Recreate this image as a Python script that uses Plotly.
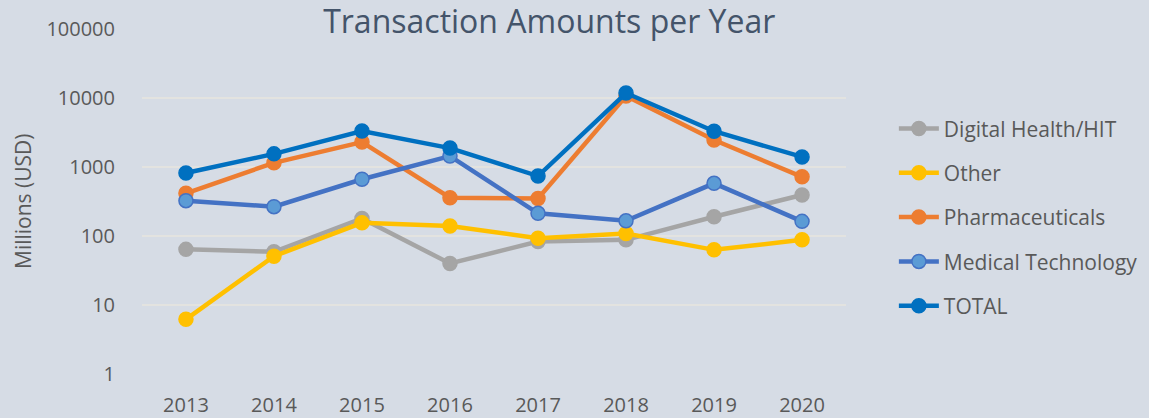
import plotly.graph_objects as go

years = ["2013", "2014", "2015", "2016", "2017", "2018", "2019", "2020"]
digital_health = [64, 59, 180, 40, 83, 88, 190, 393]
other = [6.2, 51, 155, 140, 93, 109, 63, 88]
pharmaceuticals = [416, 1150, 2300, 359, 350, 10700, 2460, 720]
medical_technology = [325, 266, 665, 1440, 213, 166, 580, 163]
total = [819, 1550, 3330, 1880, 740, 11800, 3300, 1400]

series = [
    ("Digital Health/HIT", digital_health, "#a5a5a5", "#a5a5a5"),
    ("Other", other, "#ffc000", "#ffc000"),
    ("Pharmaceuticals", pharmaceuticals, "#ed7d31", "#ed7d31"),
    ("Medical Technology", medical_technology, "#4472c4", "#5b9bd5"),
    ("TOTAL", total, "#0070c0", "#0070c0"),
]

fig = go.Figure()
for name, vals, lc, fc in series:
    fig.add_trace(go.Scatter(
        x=years, y=vals, name=name, mode="lines+markers",
        line=dict(color=lc, width=4.5),
        marker=dict(size=14, color=fc, line=dict(color=lc, width=1.5)),
        legendgroup=name,
    ))

bg = "#d6dce5"
fig.update_layout(
    width=1149, height=418,
    paper_bgcolor=bg, plot_bgcolor=bg,
    margin=dict(l=142, r=303, t=29, b=44, autoexpand=False),
    font=dict(family="Open Sans", color="#595959", size=20),
    title=dict(text="Transaction Amounts per Year", x=0.478, xref="container",
               xanchor="center", y=1 - 22 / 418, yanchor="middle",
               font=dict(size=32, color="#44546a")),
    showlegend=True,
    legend=dict(x=1.068, xanchor="left", y=0.77, yanchor="top",
                bgcolor="rgba(0,0,0,0)", font=dict(size=21, color="#595959"),
                tracegroupgap=14, traceorder="grouped", itemwidth=40),
    xaxis=dict(showgrid=False, zeroline=False, showline=False, automargin=False,
               ticks="outside", ticklen=13, tickcolor="rgba(0,0,0,0)",
               tickfont=dict(size=20, color="#595959")),
    yaxis=dict(type="log", range=[0, 5], showgrid=True, gridcolor="#e3e3e0",
               gridwidth=1.5, zeroline=False, showline=False, automargin=False,
               tickvals=[1, 10, 100, 1000, 10000, 100000],
               ticktext=["1", "10", "100", "1000", "10000", "100000"],
               ticks="outside", ticklen=22, tickcolor="rgba(0,0,0,0)",
               tickfont=dict(size=20, color="#595959")),
    annotations=[dict(text="Millions (USD)", textangle=-90, xref="paper", yref="paper",
                      x=(23 - 142) / 704, y=(374 - 201) / 345, xanchor="center", yanchor="middle",
                      showarrow=False, font=dict(size=21, color="#595959"))],
)

fig.write_html("out.html")
